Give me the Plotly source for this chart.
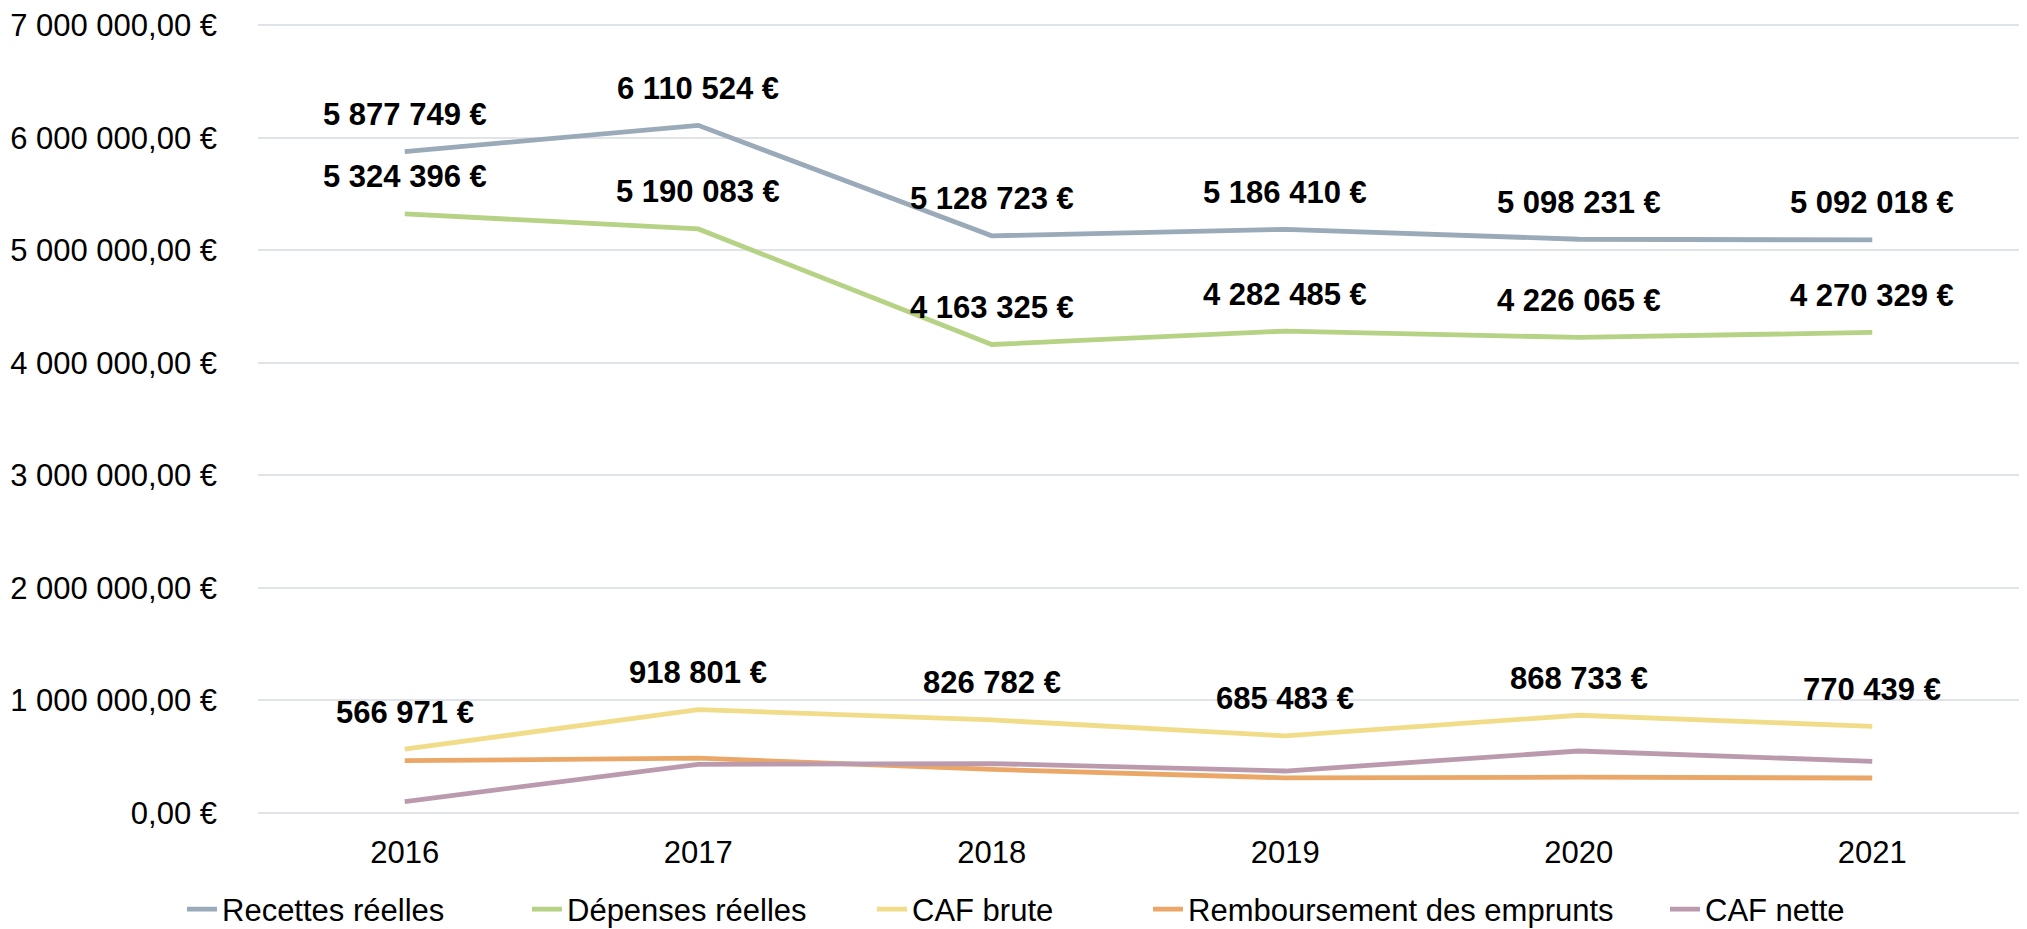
import plotly.graph_objects as go

years = ["2016", "2017", "2018", "2019", "2020", "2021"]
recettes = [5877749, 6110524, 5128723, 5186410, 5098231, 5092018]
depenses = [5324396, 5190083, 4163325, 4282485, 4226065, 4270329]
caf_brute = [566971, 918801, 826782, 685483, 868733, 770439]
remboursement = [465000, 487000, 388000, 312000, 318000, 311000]
caf_nette = [102000, 432000, 439000, 373000, 551000, 459000]
y_ticks = [0, 1000000, 2000000, 3000000, 4000000, 5000000, 6000000, 7000000]

series = [
    ("Recettes réelles", recettes, "#9AAAB8", True),
    ("Dépenses réelles", depenses, "#B6D285", True),
    ("CAF brute", caf_brute, "#F1DC89", True),
    ("Remboursement des emprunts", remboursement, "#EBA767", False),
    ("CAF nette", caf_nette, "#BC9AAE", False),
]
# legend text start positions (px from left of the window)
legend_text_x = [230, 575, 920, 1196, 1713]

FONT = "Arial, 'Liberation Sans', sans-serif"
OFFX, OFFY = 8, 6.5  # page offset of the figure inside the html body
W, H = 2011, 921
Y_TOP = 7020000          # a little headroom so the 7 000 000 gridline is drawn
PX_PER_M = 112.6
Y0_PAGE = 812            # page y of the 0 line
plot_top_page = Y0_PAGE - Y_TOP / 1e6 * PX_PER_M


def fmt_int(v):
    return f"{v:,}".replace(",", " ") + " €"


def fmt_tick(v):
    return f"{v:,.2f}".replace(",", " ").replace(".", ",") + " €"


fig = go.Figure()
annotations = []
legends = {}
for k, (name, vals, color, labelled) in enumerate(series):
    lg = "legend" if k == 0 else f"legend{k + 1}"
    fig.add_trace(go.Scatter(
        x=years, y=vals, name=name, mode="lines",
        line=dict(color=color, width=4.8), legend=lg,
    ))
    legends[lg] = dict(
        orientation="h", xref="container", yref="container",
        x=(legend_text_x[k] - 48 - OFFX) / W, xanchor="left",
        y=1 - (881 - OFFY) / H, yanchor="top",
        font=dict(family=FONT, size=31, color="#000000"),
        bgcolor="rgba(0,0,0,0)",
    )
    if labelled:
        for i, v in enumerate(vals):
            annotations.append(dict(
                x=i, y=v, xref="x", yref="y", text="<b>" + fmt_int(v) + "</b>",
                showarrow=False, yshift=37, yanchor="middle", xanchor="center",
                font=dict(family=FONT, size=31, color="#000000"),
            ))

fig.update_layout(
    width=W, height=H,
    margin=dict(l=258 - OFFX, r=0, t=plot_top_page - OFFY, b=H - (Y0_PAGE - OFFY),
                autoexpand=False),
    paper_bgcolor="white", plot_bgcolor="white",
    font=dict(family=FONT, size=31, color="#000000"),
    annotations=annotations,
    showlegend=True,
    **legends,
)
fig.update_xaxes(
    type="category", range=[-0.5, 5.5], showgrid=False, showline=False, zeroline=False,
    ticks="", ticklabelstandoff=18,
)
fig.update_yaxes(
    range=[0, Y_TOP], tickvals=y_ticks, ticktext=[fmt_tick(v) for v in y_ticks],
    showgrid=True, gridcolor="#E0E4E8", gridwidth=2,
    zeroline=True, zerolinecolor="#E0E4E8", zerolinewidth=2,
    showline=False, ticks="", ticklabelstandoff=40, ticklabeloverflow="allow",
)

fig.write_html("out.html")
